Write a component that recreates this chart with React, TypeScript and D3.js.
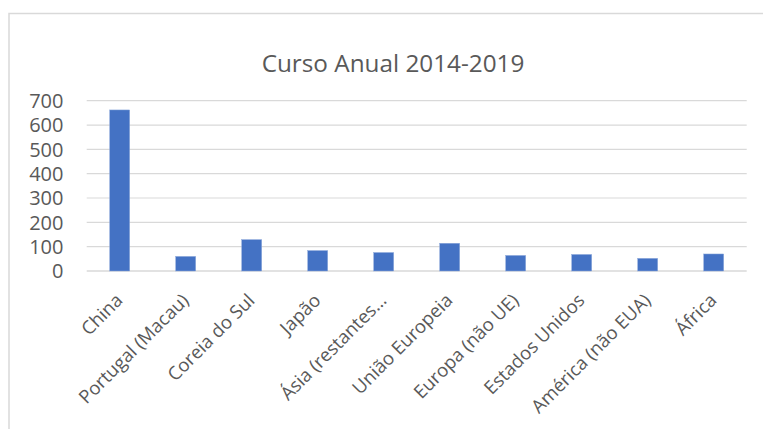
import React from "react";
import * as d3 from "d3";

const categories = [
  "China",
  "Portugal (Macau)",
  "Coreia do Sul",
  "Japão",
  "Ásia (restantes…",
  "União Europeia",
  "Europa (não UE)",
  "Estados Unidos",
  "América (não EUA)",
  "África",
];
const values = [662, 60, 129, 84, 76, 114, 64, 68, 52, 70];
const yTicks = [0, 100, 200, 300, 400, 500, 600, 700];
const title = "Curso Anual 2014-2019";

export default function App() {
  const W = 763;
  const H = 429;
  const left = 86.7;
  const right = 746.7;
  const top = 100.7;
  const bottom = 271;
  const x = d3.scaleBand().domain(categories).range([left, right]).paddingInner(0.697).paddingOuter(0.3485);
  const y = d3.scaleLinear().domain([0, 700]).range([bottom, top]);
  const font = "'Open Sans', sans-serif";
  const col = "#595959";
  return (
    <svg width={W} height={H} style={{ position: "absolute", left: 0, top: 0 }}>
      <rect x={0} y={0} width={W} height={H} fill="#fff" />
      <rect x={9} y={13.5} width={W + 20} height={H + 20} fill="#fff" stroke="#d9d9d9" strokeWidth={1.5} />
      <text x={393} y={71.5} textAnchor="middle" fontFamily={font} fontSize={24.3} fill={col}>
        {title}
      </text>
      {yTicks.map((t) => (
        <g key={t}>
          <line x1={left} x2={right} y1={y(t)} y2={y(t)} stroke="#d9d9d9" strokeWidth={t === 0 ? 1.5 : 1.2} />
          <text x={63.5} y={y(t)} dy="0.36em" textAnchor="end" fontFamily={font} fontSize={20} fill={col}>
            {t}
          </text>
        </g>
      ))}
      {categories.map((c, i) => (
        <rect
          key={c}
          x={x(c)}
          y={y(values[i])}
          width={x.bandwidth()}
          height={y(0) - y(values[i])}
          fill="#4472C4"
          stroke="#8faadc"
          strokeWidth={0.5}
        />
      ))}
      {categories.map((c) => {
        const cx = (x(c) as number) + x.bandwidth() / 2;
        return (
          <text
            key={c}
            transform={`translate(${cx - 0.5},${297})rotate(-45)`}
            textAnchor="end"
            fontFamily={font}
            fontSize={18.5}
            fill={col}
            dy="0.35em"
          >
            {c}
          </text>
        );
      })}
    </svg>
  );
}
